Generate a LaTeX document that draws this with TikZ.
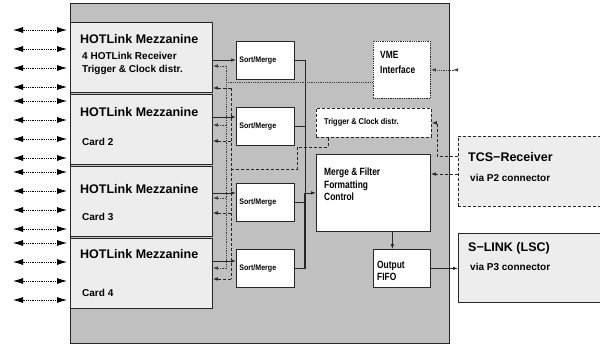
\documentclass[tikz,border=0pt]{standalone}
\usepackage{fontspec}
\setmainfont{Liberation Sans}
\newfontfamily\narrowfont[FakeStretch=0.8]{Liberation Sans}
\newfontfamily\semifont[FakeStretch=0.88]{Liberation Sans}
\usetikzlibrary{arrows.meta, calc}

\definecolor{boardgray}{RGB}{192,192,192}
\definecolor{cardgray}{RGB}{237,237,237}

\begin{document}
\begin{tikzpicture}[
    x=1pt, y=-1pt,
    font=\bfseries,
    blk/.style={
        rectangle, draw=black!85, line width=0.8pt,
        anchor=north west, inner sep=0pt
    },
    board/.style={blk, fill=boardgray, minimum width=379pt, minimum height=340pt},
    card/.style={blk, fill=cardgray, minimum width=142pt, minimum height=70pt},
    smbox/.style={blk, fill=white, minimum height=38pt, text width=52pt, inner xsep=3pt,
        align=left, font=\semifont\bfseries\fontsize{8}{9}\selectfont},
    fpga/.style={blk, fill=white},
    vmebox/.style={blk, fill=white, densely dotted},
    trigbox/.style={blk, fill=white, dash pattern=on 3pt off 2pt},
    ext/.style={blk, fill=cardgray},
    cardtitle/.style={anchor=west, inner sep=0pt, font=\bfseries\fontsize{12.5}{15}\selectfont},
    cardsub/.style={anchor=west, inner sep=0pt, align=left, font=\bfseries\fontsize{10}{13}\selectfont},
    lblmid/.style={anchor=west, inner sep=0pt, align=left, font=\narrowfont\bfseries\fontsize{10.5}{12.5}\selectfont},
    lblsmall/.style={anchor=west, inner sep=0pt, font=\semifont\bfseries\fontsize{8.4}{9}\selectfont},
    data/.style={line width=0.8pt, draw=black!85},
    toarr/.style={-{Latex[length=5pt, width=3.5pt]}},
    vmelink/.style={line width=0.8pt, draw=black!75, densely dotted},
    tcslink/.style={line width=0.8pt, draw=black!85, dash pattern=on 3pt off 2pt},
    iolink/.style={line width=0.8pt, draw=black, densely dotted,
        {Latex[length=10pt, width=6pt]}-{Latex[length=10pt, width=6pt]}}
]
\useasboundingbox (0,0) rectangle (600,346);

% ============ Board and mezzanine cards ============
\node[board] (board) at (70,3) {};
\foreach \i/\top in {1/22, 2/94, 3/166, 4/238}{
    \node[card] (card\i) at (70,\top) {};
    \foreach \j in {0,...,3}{
        \coordinate (io\i\j) at (13, {30+71*(\i-1)+19*\j});
        \draw[iolink, shorten >=3pt] (io\i\j) -- (io\i\j -| card\i.west);
    }
}

\node[cardtitle] (ct1) at (80,39) {HOTLink Mezzanine};
\node[cardsub] (cs1) at (82,63.5) {4 HOTLink Receiver\\Trigger \& Clock distr.};
\node[cardtitle] (ct2) at (80,112) {HOTLink Mezzanine};
\node[cardsub] (cs2) at (82,142) {Card 2};
\node[cardtitle] (ct3) at (80,189) {HOTLink Mezzanine};
\node[cardsub] (cs3) at (82,217) {Card 3};
\node[cardtitle] (ct4) at (80,254) {HOTLink Mezzanine};
\node[cardsub] (cs4) at (82,293) {Card 4};

% ============ Sort/Merge stages ============
\foreach \i/\top/\dy in {1/41/19, 2/107/10, 3/183/10, 4/249/12}{
    \node[smbox] (sm\i) at (236,\top) {Sort/Merge};
    \coordinate (in\i) at ($(sm\i.north west)+(0,\dy)$);
    \draw[data, toarr] (card\i.east |- in\i) -- (in\i);
}

% ============ Right-hand blocks ============
\node[vmebox, minimum width=57pt, minimum height=57pt] (vme) at (373,41) {};
\node[lblmid, font=\narrowfont\bfseries\fontsize{10.5}{15}\selectfont] (vmetext) at (380,62.5) {VME\\Interface};

\node[trigbox, minimum width=115pt, minimum height=29pt] (trig) at (316,108) {};
\node[lblsmall] (trigtext) at (324,122) {Trigger \& Clock distr.};

\node[fpga, minimum width=114pt, minimum height=77pt] (merge) at (316,154) {};
\node[lblmid] (mergetext) at (324,184.5) {Merge \& Filter\\Formatting\\Control};

\node[fpga, minimum width=57pt, minimum height=38pt] (fifo) at (373,249) {};
\node[lblmid, font=\narrowfont\bfseries\fontsize{10.5}{12}\selectfont] (fifotext) at (377,271) {Output\\FIFO};

\node[ext, dash pattern=on 3pt off 2pt, minimum width=144pt, minimum height=70pt] (tcs) at (458,136) {};
\node[cardtitle] (tcstitle) at (468,157) {TCS−Receiver};
\node[cardsub] (tcssub) at (470,178) {via P2 connector};

\node[ext, minimum width=144pt, minimum height=69pt] (slink) at (458,233) {};
\node[cardtitle] (slinktitle) at (468,248) {S−LINK (LSC)};
\node[cardsub] (slinksub) at (470,267) {via P3 connector};

% ============ Data flow ============
\coordinate (obus) at (305,0);
\draw[data] (sm1.east) -| (merge.west -| obus);
\draw[data, line width=1.4pt] (merge.west -| obus) |- (sm4.east);
\draw[data] (sm2.east) -- (sm2.east -| obus);
\draw[data] (sm3.east) -- (sm3.east -| obus);
\draw[data, toarr] (merge.west -| obus) -- (merge.west);

\coordinate (fifoin) at ([xshift=-9.5pt]fifo.north);
\draw[data, toarr] (fifoin |- merge.south) -- (fifoin);
\draw[data, toarr] (fifo.east) -- (fifo.east -| slink.west);

% ============ VME and trigger/clock lines ============
\foreach \i/\ya/\yb in {1/66/88, 2/125/141, 3/198/213, 4/268/279}{
    \coordinate (dot\i) at (226,\ya);
    \coordinate (dash\i) at (231,\yb);
    \draw[vmelink, toarr] (dot\i) -- (dot\i -| card\i.east);
    \draw[tcslink, toarr] (dash\i) -- (dash\i -| card\i.east);
}
\draw[vmelink] (dot1) -- (dot4);
\draw[tcslink] (dash1) -- (dash4);

\coordinate (vbus) at (226,82);
\draw[vmelink] (vbus) -- (vbus -| vme.west);
\coordinate (vmeout) at (vme.east -| tcs.west);
\draw[vmelink, {Latex[length=5pt, width=3.5pt]}-{Latex[length=5pt, width=3.5pt, reversed]}] (vme.east) -- (vmeout);

\coordinate (tbend) at (297,147);
\coordinate (tbus) at (231,169);
\draw[tcslink] ([xshift=12pt]trig.south west) |- (tbend) |- (tbus);

\coordinate (tcsa) at ([yshift=-20pt]tcs.north west);
\coordinate (tcsb) at ([yshift=-38pt]tcs.north west);
\draw[tcslink, toarr] (tcsa) -- ++(-21,0) |- (trig.east);
\draw[tcslink, toarr] (tcsb) -- (tcsb -| merge.east);

\end{tikzpicture}
\end{document}
